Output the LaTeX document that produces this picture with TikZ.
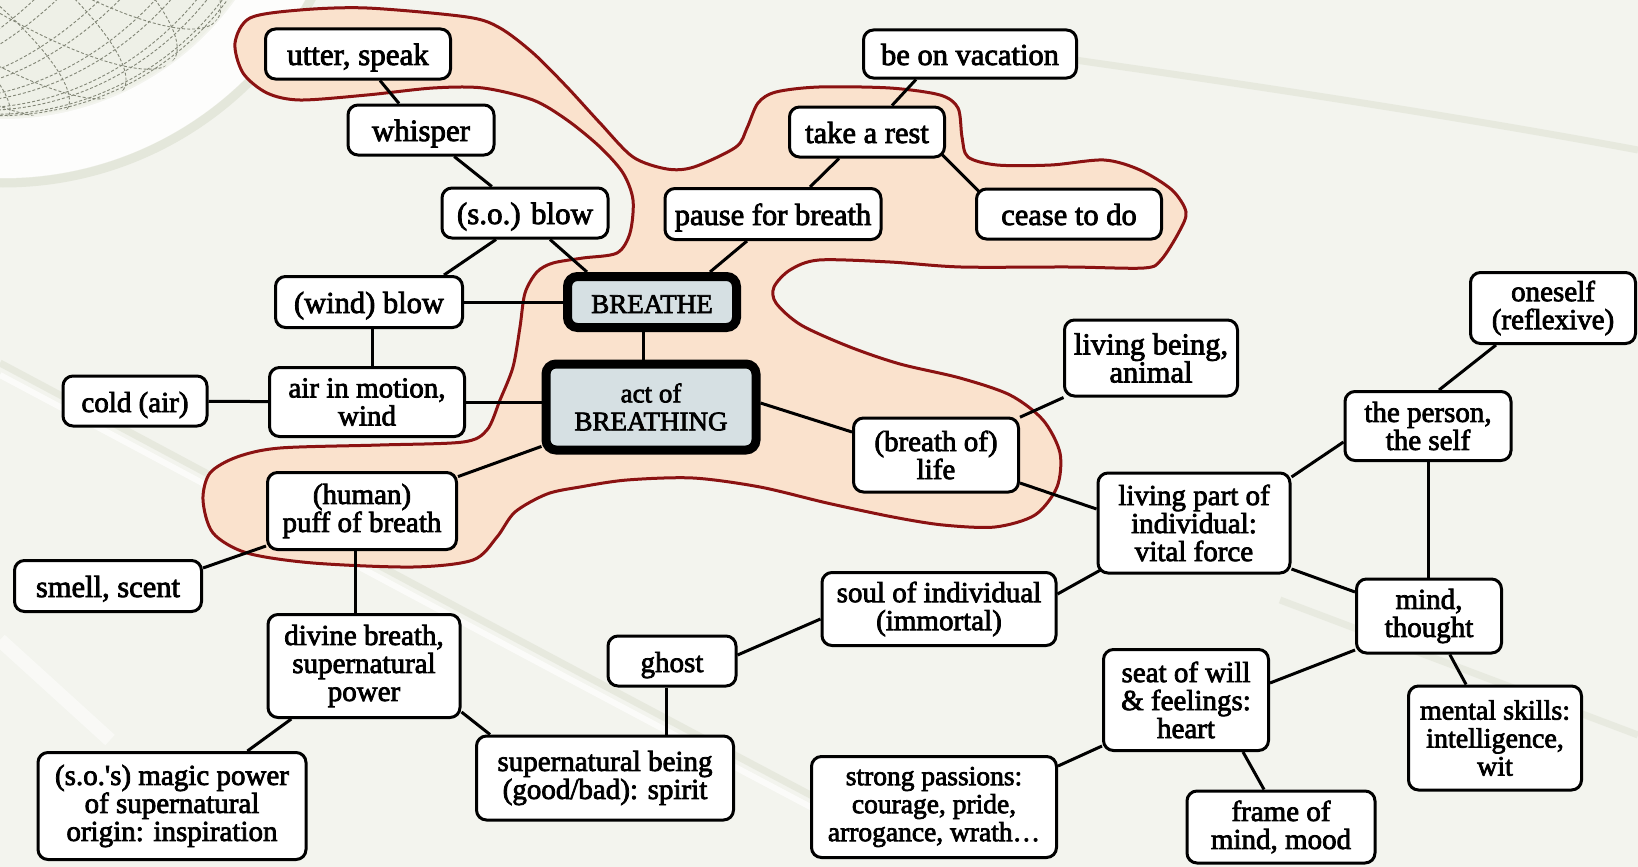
\documentclass[tikz,border=0pt]{standalone}
\usepackage{fontspec}
\setmainfont{Liberation Serif}
\newfontfamily\nodefont{Liberation Serif}[FakeBold=2.6]
\usetikzlibrary{calc}
\definecolor{paper}{RGB}{243,244,238}
\definecolor{globefill}{RGB}{238,240,231}
\definecolor{meshline}{RGB}{130,134,118}
\definecolor{streak}{RGB}{228,231,219}
\definecolor{blobfill}{RGB}{250,226,205}
\definecolor{blobline}{RGB}{139,18,18}
\definecolor{corefill}{RGB}{214,224,227}
\pgfdeclarelayer{bg}
\pgfdeclarelayer{blob}
\pgfdeclarelayer{edges}
\pgfsetlayers{bg,blob,edges,main}
\newcommand{\fs}[1]{\fontsize{#1}{28}\selectfont}
\begin{document}
\begin{tikzpicture}[x=1pt,y=-1pt,
  box/.style={draw=black, line width=3pt, rounded corners=10pt, fill=white,
    align=center, inner sep=0pt, font=\nodefont\fs{29}},
  core/.style={box, line width=9pt, fill=corefill, font=\nodefont\fs{27}},
  oneline/.style={text height=22pt, text depth=0pt},
  link/.style={draw=black, line width=3pt}]

\useasboundingbox (0,0) rectangle (1638,867);

% ---------- backdrop ----------
\begin{pgfonlayer}{bg}
\fill[paper] (0,0) rectangle (1638,867);
\begin{scope}
  \clip (0,0) rectangle (1638,867);
  \coordinate (gc) at (3,-167);
  % wire globe in the corner
  \fill[globefill] (gc) circle (284pt);
  \begin{scope}
    \clip (gc) circle (284pt);
    \foreach \a in {10,22,...,170}
      \draw[meshline, line width=0.9pt, dash pattern=on 3pt off 2pt, rotate around={-35:(gc)}]
        (gc) ellipse ({284*cos(\a)} and 284);
    \foreach \t in {-78,-66,...,78}
      \draw[meshline, line width=0.9pt, dash pattern=on 3pt off 2pt, rotate around={-35:(gc)}]
        ($(gc)+(0,{284*sin(\t)})$) ellipse ({284*cos(\t)} and {70*cos(\t)});
  \end{scope}
  % bright rim and its shadow
  \fill[white, opacity=0.85, even odd rule] (gc) circle (345pt) (gc) circle (286pt);
  \draw[streak, line width=9pt] (gc) circle (350pt);
  % faint streaks across the sheet
  \draw[streak, line width=7pt, opacity=0.8] (0,363) .. controls (220,480) and (470,615) .. (820,800);
  \draw[white, line width=6pt, opacity=0.7] (0,375) .. controls (220,492) and (470,627) .. (820,812);
  \draw[streak, line width=7pt, opacity=0.8] (1075,60) .. controls (1250,85) and (1450,115) .. (1638,150);
  \draw[streak, line width=7pt, opacity=0.7] (1280,600) -- (1638,735);
  \draw[white, line width=14pt, opacity=0.5] (0,640) -- (110,740);
\end{scope}
\end{pgfonlayer}

% ---------- nodes ----------
\node[box, oneline, minimum width=185pt, minimum height=50pt, font=\nodefont\fs{31}] (utter) at (358,54) {utter, speak};
\node[box, oneline, minimum width=146pt, minimum height=50pt, font=\nodefont\fs{31}] (whisper) at (421,130) {whisper};
\node[box, oneline, minimum width=166pt, minimum height=50pt, font=\nodefont\fs{31}] (sob) at (525,213) {(s.o.) blow};
\node[box, oneline, minimum width=187pt, minimum height=51pt, font=\nodefont\fs{30.5}] (wind) at (369,302) {(wind) blow};
\node[core, oneline, minimum width=169pt, minimum height=51pt] (breathe) at (652,302) {BREATHE};
\node[core, minimum width=210pt, minimum height=86pt] (act) at (651,407) {act of\\BREATHING};
\node[box, oneline, minimum width=144pt, minimum height=50pt] (cold) at (135,401) {cold (air)};
\node[box, minimum width=195pt, minimum height=69pt] (air) at (367,402) {air in motion,\\wind};
\node[box, minimum width=189pt, minimum height=77pt] (puff) at (362,511) {(human)\\puff of breath};
\node[box, oneline, minimum width=187pt, minimum height=51pt, font=\nodefont\fs{30.5}] (smell) at (108,586) {smell, scent};
\node[box, minimum width=192pt, minimum height=103pt] (divine) at (364,666) {divine breath,\\supernatural\\power};
\node[box, minimum width=268pt, minimum height=107pt] (magic) at (172,806) {(s.o.\textquotesingle s) magic power\\of supernatural\\origin: inspiration};
\node[box, minimum width=257pt, minimum height=84pt] (sup) at (605,778) {supernatural being\\(good/bad): spirit};
\node[box, oneline, minimum width=128pt, minimum height=50pt] (ghost) at (672,661) {ghost};
\node[box, minimum width=234pt, minimum height=73pt] (soul) at (939,609) {soul of individual\\(immortal)};
\node[box, oneline, minimum width=216pt, minimum height=51pt, font=\nodefont\fs{30.5}] (pause) at (773,214) {pause for breath};
\node[box, oneline, minimum width=155pt, minimum height=50pt, font=\nodefont\fs{30.5}] (rest) at (867,132) {take a rest};
\node[box, oneline, minimum width=213pt, minimum height=48pt, font=\nodefont\fs{30.5}] (vacation) at (970,54) {be on vacation};
\node[box, oneline, minimum width=185pt, minimum height=50pt, font=\nodefont\fs{30.5}] (cease) at (1069,214) {cease to do};
\node[box, minimum width=173pt, minimum height=76pt, font=\nodefont\fs{30.5}] (animal) at (1151,358) {living being,\\animal};
\node[box, minimum width=165pt, minimum height=74pt] (life) at (936,455) {(breath of)\\life};
\node[box, minimum width=192pt, minimum height=100pt] (vital) at (1194,523) {living part of\\individual:\\vital force};
\node[box, minimum width=165pt, minimum height=71pt] (oneself) at (1553,308) {oneself\\(reflexive)};
\node[box, minimum width=166pt, minimum height=69pt] (person) at (1428,426) {the person,\\the self};
\node[box, minimum width=145pt, minimum height=74pt] (mind) at (1429,616) {mind,\\thought};
\node[box, minimum width=173pt, minimum height=104pt, font=\nodefont\fs{28}] (mental) at (1495,738) {mental skills:\\intelligence,\\wit};
\node[box, minimum width=165pt, minimum height=101pt] (seat) at (1186,700) {seat of will\\\& feelings:\\heart};
\node[box, minimum width=245pt, minimum height=101pt, font=\nodefont\fs{27.5}] (passions) at (934,807) {strong passions:\\courage, pride,\\arrogance, wrath…};
\node[box, minimum width=188pt, minimum height=72pt] (frame) at (1281,827) {frame of\\mind, mood};

% ---------- the BREATHE sense group ----------
\begin{pgfonlayer}{blob}
\draw[blobline, line width=3pt, fill=blobfill]
  plot[smooth cycle, tension=0.5] coordinates {
  (250,18) (300,10) (367,8) (467,17) (500,28) (533,53) (567,87) (600,123)
  (633,157) (667,169) (694,167) (736,147) (747,128) (758,103) (776,92)
  (819,87) (890,88) (940,95) (958,108) (962,137) (968,157) (997,165)
  (1051,165) (1104,160) (1140,170) (1172,190) (1186,212) (1179,232)
  (1161,260) (1144,268) (1069,267) (961,267) (890,262) (819,260) (790,270)
  (774,287) (776,303) (801,325) (850,347) (900,364) (960,378) (1010,395)
  (1043,420) (1060,453) (1057,487) (1035,515) (995,527) (943,525) (893,517)
  (827,503) (760,487) (693,478) (627,480) (580,487) (547,494) (515,512)
  (497,537) (473,560) (413,567) (313,563) (247,553) (213,533) (203,500)
  (210,473) (237,457) (280,448) (380,445) (463,442) (487,430) (500,400)
  (513,367) (520,327) (525,293) (537,272) (553,263) (583,258) (617,253)
  (630,233) (633,200) (623,173) (600,147) (567,120) (533,100) (483,88)
  (433,88) (367,95) (300,100) (267,93) (243,73) (235,43)};
\end{pgfonlayer}

% ---------- connectors ----------
\begin{pgfonlayer}{edges}
\draw[link] (utter) -- (whisper);
\draw[link] (whisper) -- (sob);
\draw[link] ([xshift=-29pt]sob.south) -- ([xshift=75pt]wind.north);
\draw[link] ([xshift=25pt]sob.south) -- ([xshift=-65pt]breathe.north);
\draw[link] (wind) -- (breathe);
\draw[link] ([xshift=3pt]wind.south) -- ([xshift=3pt]wind.south |- air.north);
\draw[link] (cold) -- (air);
\draw[link] (air.east) -- (air.east -| act.west);
\draw[link] ([xshift=-9pt]breathe.south) -- ([xshift=-9pt]breathe.south |- act.north);
\draw[link] (act) -- (puff);
\draw[link] ([yshift=4pt]act.east) -- ([yshift=23pt]life.west);
\draw[link] ([yshift=-35pt]puff.west) -- ([yshift=18pt]smell.east);
\draw[link] ([xshift=-7pt]puff.south) -- ([xshift=-7pt]puff.south |- divine.north);
\draw[link] (divine) -- (magic);
\draw[link] ([yshift=-46pt]divine.east) -- ([xshift=15pt]sup.north west);
\draw[link] ([xshift=-6pt]ghost.south) -- ([xshift=-6pt]ghost.south |- sup.north);
\draw[link] ([yshift=6pt]ghost.east) -- ([yshift=-10pt]soul.west);
\draw[link] ([yshift=15pt]soul.east) -- ([xshift=5pt,yshift=5pt]vital.south west);
\draw[link] ([xshift=-26pt]pause.south) -- ([xshift=58pt]breathe.north);
\draw[link] ([xshift=37pt]pause.north) -- ([xshift=-28pt]rest.south);
\draw[link] ([xshift=25pt]rest.north) -- ([xshift=-54pt]vacation.south);
\draw[link] ([xshift=-4pt,yshift=4pt]rest.south east) -- ([xshift=4pt,yshift=-4pt]cease.north west);
\draw[link] (life) -- (animal);
\draw[link] ([yshift=-28pt]life.east) -- ([yshift=14pt]vital.west);
\draw[link] ([yshift=46pt]vital.east) -- ([yshift=-16pt]person.west);
\draw[link] ([xshift=11pt]person.north) -- ([xshift=-57pt]oneself.south);
\draw[link] (person.south) -- (person.south |- mind.north);
\draw[link] ([yshift=-46pt]vital.east) -- ([yshift=24pt]mind.west);
\draw[link] (mind) -- (mental);
\draw[link] ([yshift=-34pt]mind.west) -- ([yshift=17pt]seat.east);
\draw[link] ([yshift=-46pt]seat.west) -- ([yshift=41pt]passions.east);
\draw[link] ([xshift=57pt]seat.south) -- ([xshift=-17pt]frame.north);
\end{pgfonlayer}
\end{tikzpicture}
\end{document}
